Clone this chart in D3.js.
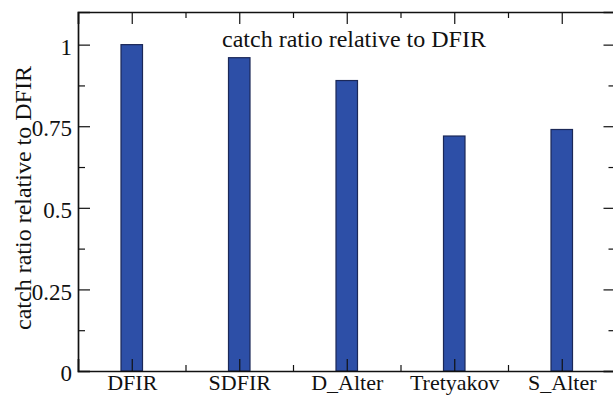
<!DOCTYPE html>
<html>
<head>
<meta charset="utf-8">
<script src="https://cdn.jsdelivr.net/npm/d3@7"></script>
</head>
<body style="margin:0;background:#fff">
<svg id="chart" width="613" height="395" style="display:block"></svg>
<script>
// Gauge names and their catch ratio relative to the DFIR reference
const categories = ["DFIR", "SDFIR", "D_Alter", "Tretyakov", "S_Alter"];
const ratios = [1.0, 0.96, 0.89, 0.72, 0.74];
const yMajorTicks = [0, 0.25, 0.5, 0.75, 1];
const yTickLabels = ["0", "0.25", "0.5", "0.75", "1"];
const yMinorTicks = [0.125, 0.375, 0.625, 0.875];
const titleText = "catch ratio relative to DFIR";
const yLabelText = "catch ratio relative to DFIR";

const SERIF = '"Liberation Serif"';
const svg = d3.select("#chart");
const frame = { left: 78, right: 615.5, top: 12, bottom: 371 };

// Categories sit at 1..n; the frame spans half a slot on either side
const x = d3.scaleLinear().domain([0.5, categories.length + 0.5]).range([frame.left, frame.right]);
const y = d3.scaleLinear().domain([0, 1.1]).range([frame.bottom, frame.top]);

const catPos = categories.map((_, i) => i + 1);
const midPos = categories.slice(1).map((_, i) => i + 1.5);
const barW = x(1.1) - x(0.9);

svg.append("rect").attr("width", 613).attr("height", 395).attr("fill", "#fff");

// Bars
svg.append("g").selectAll("rect")
  .data(ratios)
  .join("rect")
  .attr("x", (d, i) => x(i + 1) - barW / 2)
  .attr("y", d => y(d))
  .attr("width", barW)
  .attr("height", d => y(0) - y(d))
  .attr("fill", "#2d4fa7")
  .attr("stroke", "#1b2858")
  .attr("stroke-width", 1.2);

function styleAxis(g) {
  g.select(".domain").attr("stroke", "#111").attr("stroke-width", 1.7);
  g.selectAll(".tick line").attr("stroke", "#111").attr("stroke-width", 1.2);
  g.selectAll("text").style("font-family", SERIF).attr("fill", "#111");
}

// Left axis: labelled majors + minors, ticks pointing inward
svg.append("g").attr("transform", `translate(${frame.left},0)`)
  .call(d3.axisLeft(y).tickValues(yMajorTicks).tickSize(-12)
    .tickFormat((d, i) => yTickLabels[i]))
  .call(styleAxis)
  .call(g => g.selectAll("text").style("font-size", "23px").attr("x", -6).attr("dy", "0.42em"));
svg.append("g").attr("transform", `translate(${frame.left},0)`)
  .call(d3.axisLeft(y).tickValues(yMinorTicks).tickSize(-7).tickFormat(""))
  .call(styleAxis).call(g => g.select(".domain").remove());

// Right axis: ticks only
svg.append("g").attr("transform", `translate(${frame.right},0)`)
  .call(d3.axisRight(y).tickValues(yMajorTicks).tickSize(-12).tickFormat(""))
  .call(styleAxis);
svg.append("g").attr("transform", `translate(${frame.right},0)`)
  .call(d3.axisRight(y).tickValues(yMinorTicks).tickSize(-7).tickFormat(""))
  .call(styleAxis).call(g => g.select(".domain").remove());

// Top axis: ticks only
svg.append("g").attr("transform", `translate(0,${frame.top})`)
  .call(d3.axisTop(x).tickValues(catPos).tickSize(-12).tickFormat(""))
  .call(styleAxis);
svg.append("g").attr("transform", `translate(0,${frame.top})`)
  .call(d3.axisTop(x).tickValues(midPos).tickSize(-6).tickFormat(""))
  .call(styleAxis).call(g => g.select(".domain").remove());

// Bottom axis: category labels, ticks drawn over the bars
svg.append("g").attr("transform", `translate(0,${frame.bottom})`)
  .call(d3.axisBottom(x).tickValues(catPos).tickSize(-12)
    .tickFormat((d, i) => categories[i]))
  .call(styleAxis)
  .call(g => g.selectAll("text").style("font-size", "22px").attr("y", 19).attr("dy", null));
svg.append("g").attr("transform", `translate(0,${frame.bottom})`)
  .call(d3.axisBottom(x).tickValues(midPos).tickSize(-6).tickFormat(""))
  .call(styleAxis).call(g => g.select(".domain").remove());

// Title inside the plot area
svg.append("text")
  .attr("x", 354).attr("y", 47)
  .attr("text-anchor", "middle")
  .attr("fill", "#111")
  .style("font-family", SERIF).style("font-size", "24px")
  .text(titleText);

// Y axis label
svg.append("text")
  .attr("transform", "translate(31,198) rotate(-90)")
  .attr("text-anchor", "middle")
  .attr("fill", "#111")
  .style("font-family", SERIF).style("font-size", "24px")
  .text(yLabelText);
</script>
</body>
</html>
